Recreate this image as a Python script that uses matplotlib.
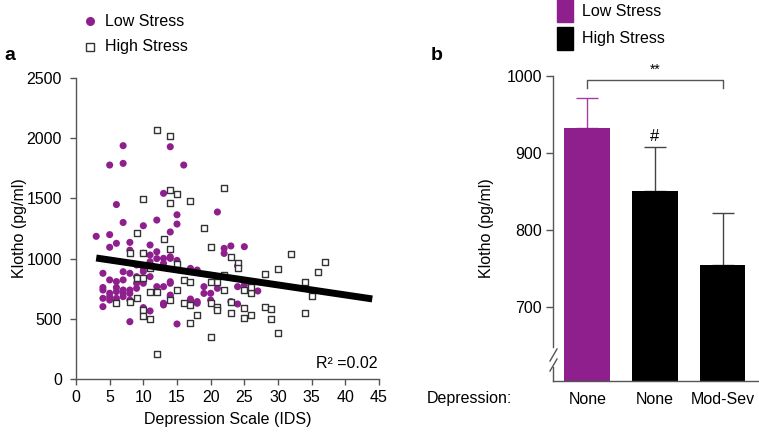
import matplotlib
matplotlib.use('Agg')
import matplotlib.pyplot as plt
from matplotlib.lines import Line2D
from matplotlib.patches import Rectangle

plt.rcParams['font.family'] = ['Liberation Sans', 'DejaVu Sans']

# ---------------- data: panel a ----------------
low_x = [7, 14, 5, 7, 16, 13, 6, 7, 10, 12, 15, 15, 14, 21, 3, 5,
         5, 8, 11, 6, 8, 10, 11, 12, 14, 15, 13, 14, 22, 23, 25, 22, 24, 13, 17, 18, 12,
         4, 5, 6, 7, 8, 9, 10, 11, 9, 10, 4, 5, 6, 7, 8, 9, 4, 5, 6, 4, 6, 8, 7, 10, 11, 8,
         13, 12, 12, 13, 14, 14, 13, 15, 14, 14,
         17, 17, 18, 20, 19, 19, 18, 20, 21, 23, 24, 24, 27, 25,
         7, 9, 10, 11, 4, 5, 7, 8, 6]
low_y = [1938, 1929, 1777, 1791, 1777, 1542, 1449, 1300, 1273, 1320, 1364, 1287, 1221, 1387, 1185, 1199,
         1094, 1135, 1113, 1127, 1070, 1044, 1030, 1057, 1015, 985, 1002, 1002, 1085, 1105, 1099, 1043, 940, 960, 919, 905, 1000,
         878, 823, 809, 823, 878, 850, 892, 850, 795, 795, 739, 712, 726, 739, 739, 753, 670, 656, 670, 601, 643, 656, 684, 593, 565, 476,
         615, 767, 726, 767, 795, 684, 629, 457, 808, 697,
         664, 648, 629, 656, 767, 711, 643, 712, 753, 643, 623, 767, 731, 782,
         891, 947, 919, 974, 760, 683, 711, 711, 760]

high_x = [12, 14, 14, 15, 10, 14, 17, 22, 9, 19, 13,
          8, 10, 14, 20, 23, 24, 24, 28, 22, 15, 21, 11, 9, 10, 16, 17, 15, 11, 12, 14, 9, 8, 6,
          10, 10, 11, 16, 17, 18, 17, 20, 21, 21, 22, 23, 23, 25, 25, 26, 25, 26, 26, 20, 12, 20,
          32, 37, 30, 36, 34, 35, 28, 29, 29, 34, 30]
high_y = [2068, 2020, 1570, 1536, 1492, 1458, 1475, 1586, 1215, 1251, 1165,
          1050, 1050, 1080, 1099, 1016, 960, 919, 869, 864, 955, 809, 919, 841, 836, 823, 809, 739, 726, 726, 656, 670, 643, 629,
          573, 523, 496, 629, 615, 532, 462, 629, 601, 573, 739, 643, 551, 587, 504, 532, 739, 712, 767, 352, 208, 808,
          1036, 975, 911, 886, 803, 686, 601, 578, 495, 551, 385]

fit_x = [3, 44]
fit_y = [1005, 665]
r2_label = "R\u00b2 =0.02"

# ---------------- data: panel b ----------------
group_labels = ['None', 'None', 'Mod-Sev']
group_means = [933, 851, 754]
group_errs = [39, 57, 68]

PURPLE = '#8e1f8c'
GRAY = '#555555'

W, H = 759, 432
fig = plt.figure(figsize=(W / 100, H / 100), dpi=100)

def fx(px):
    return px / W

def fy(py):
    return 1 - py / H

# ---------------- panel a ----------------
axa = fig.add_axes([fx(76), fy(379), (379 - 76) / W, (379 - 78) / H])
axa.scatter(low_x, low_y, s=26, marker='o', color=PURPLE, edgecolors='none', zorder=2)
axa.scatter(high_x, high_y, s=20, marker='s', facecolors='white', edgecolors='#333333',
            linewidths=1.0, zorder=3)
axa.plot(fit_x, fit_y, color='black', lw=5, solid_capstyle='butt', zorder=4)
axa.set_xlim(0, 45)
axa.set_ylim(0, 2500)
axa.set_xticks(range(0, 46, 5))
axa.set_yticks(range(0, 2501, 500))
for s in ['top', 'right']:
    axa.spines[s].set_visible(False)
for s in ['left', 'bottom']:
    axa.spines[s].set_color(GRAY)
    axa.spines[s].set_linewidth(1.0)
axa.tick_params(axis='both', colors=GRAY, labelcolor='black', labelsize=11.5, width=1.0)
axa.tick_params(axis='y', length=4, pad=6)
axa.tick_params(axis='x', length=4, pad=4)
axa.set_xlabel('Depression Scale (IDS)', fontsize=11.5, labelpad=5)
fig.text(fx(20), fy(228), 'Klotho (pg/ml)', rotation=90, ha='center', va='center', fontsize=11.5)
fig.text(fx(377), fy(364), r2_label, ha='right', va='center', fontsize=11.5)
fig.text(fx(4), fy(55), 'a', fontsize=14, fontweight='bold', ha='left', va='center')

# legend a
fig.add_artist(Line2D([fx(90)], [fy(21)], marker='o', markersize=6.5, color=PURPLE, lw=0,
                      markeredgewidth=0, transform=fig.transFigure))
fig.add_artist(Line2D([fx(90)], [fy(47)], marker='s', markersize=5.5, markerfacecolor='white',
                      markeredgecolor='#333333', markeredgewidth=1.0, lw=0, transform=fig.transFigure))
fig.text(fx(105), fy(21), 'Low Stress', fontsize=11.5, va='center', ha='left')
fig.text(fx(105), fy(47), 'High Stress', fontsize=11.5, va='center', ha='left')

# ---------------- panel b ----------------
ymin_b = 604
axb = fig.add_axes([fx(553), fy(381), (W - 553) / W, (381 - 76) / H])
xpos = list(range(len(group_means)))
colors = [PURPLE, 'black', 'black']
ecolors = ['#a040a0', '#444444', '#444444']
axb.bar(xpos, [m - ymin_b for m in group_means], bottom=ymin_b, width=0.68, color=colors, zorder=2)
for i in xpos:
    axb.errorbar(xpos[i], group_means[i], yerr=[[0], [group_errs[i]]], fmt='none',
                 ecolor=ecolors[i], elinewidth=1.0, capsize=8, capthick=1.0, zorder=1)
axb.set_xlim(-0.51, 2.54)
axb.set_ylim(ymin_b, 1000)
axb.set_yticks([700, 800, 900, 1000])
axb.set_xticks(xpos)
axb.set_xticklabels(group_labels)
for s in ['top', 'right']:
    axb.spines[s].set_visible(False)
for s in ['left', 'bottom']:
    axb.spines[s].set_color(GRAY)
    axb.spines[s].set_linewidth(1.0)
axb.spines['left'].set_bounds(648, 1000)
axb.plot([-0.51, -0.51], [ymin_b, 622], color=GRAY, lw=1.0, clip_on=False, zorder=5)
axb.tick_params(axis='y', colors=GRAY, labelcolor='black', labelsize=11.5, length=5, width=1.0, pad=3)
axb.tick_params(axis='x', length=0, labelsize=11.5, pad=8)
# axis break marks
for py in (358, 368):
    fig.add_artist(Line2D([fx(550), fx(557)], [fy(py + 3), fy(py - 9)], color=GRAY, lw=1.0,
                          transform=fig.transFigure))
fig.text(fx(487), fy(228), 'Klotho (pg/ml)', rotation=90, ha='center', va='center', fontsize=11.5)
fig.text(fx(427), fy(398), 'Depression:', ha='left', va='center', fontsize=11.5)
fig.text(fx(431), fy(55), 'b', fontsize=14, fontweight='bold', ha='left', va='center')

# significance bracket
axb.plot([0, 0, 2, 2], [984, 995, 995, 984], color=GRAY, lw=1.0, clip_on=False)
axb.text(1, 999, '**', ha='center', va='bottom', fontsize=10)
axb.text(1, 912, '#', ha='center', va='bottom', fontsize=12)

# legend b
fig.add_artist(Rectangle((fx(557), fy(22)), 16 / W, 24 / H, color=PURPLE, transform=fig.transFigure))
fig.add_artist(Rectangle((fx(557), fy(50)), 16 / W, 23 / H, color='black', transform=fig.transFigure))
fig.text(fx(582), fy(12), 'Low Stress', fontsize=11.5, va='center', ha='left')
fig.text(fx(582), fy(39), 'High Stress', fontsize=11.5, va='center', ha='left')

fig.savefig('out.png', dpi=100)
